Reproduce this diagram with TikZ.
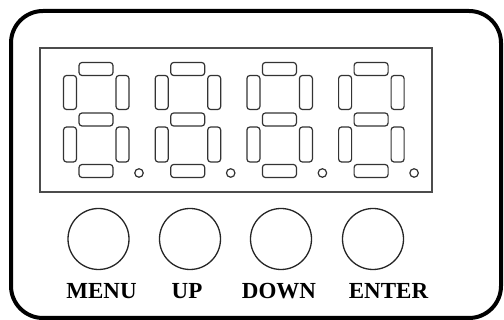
\documentclass[tikz,border=0pt]{standalone}
\usepackage{fontspec}
\setmainfont{Liberation Serif}
\usetikzlibrary{positioning}
\tikzset{
  hseg/.style={draw=black!80, line width=1.2pt, rounded corners=3pt, minimum width=34pt, minimum height=13pt, inner sep=0pt},
  vseg/.style={hseg, minimum width=13pt, minimum height=34pt},
  segdot/.style={circle, draw=black!80, line width=1.2pt, minimum size=8.5pt, inner sep=0pt},
  button/.style={circle, draw=black!85, line width=1.3pt, minimum size=61pt, inner sep=0pt},
  keylabel/.style={anchor=base, inner sep=0pt, font=\bfseries\fontsize{23}{23}\selectfont}
}
\begin{document}
\begin{tikzpicture}[x=1pt,y=-1pt]
	\useasboundingbox (0,0) rectangle (504,320);
	\draw [line width=4pt, rounded corners=32pt] (11,11) rectangle (501,318);
	\draw [line width=1.3pt, black!70] (40,48) rectangle (432,192);
	% four seven-segment digits
	\foreach \i in {0,...,3} {
		\pgfmathsetmacro\x{63+91.7*\i}
		\node [hseg] (top\i) at (\x+33,69) {};
		\node [vseg] (ul\i) at (\x+7,92.5) {};
		\node [vseg] (ur\i) at (\x+59.5,92.5) {};
		\node [hseg] (mid\i) at (\x+33,119.5) {};
		\node [vseg, minimum height=35pt] (ll\i) at (\x+7,144.5) {};
		\node [vseg, minimum height=35pt] (lr\i) at (\x+59.5,144.5) {};
		\node [hseg] (bot\i) at (\x+33,171) {};
		\node [segdot] (dot\i) at (\x+76,173) {};
	}
	% keys
	\node [button] (menu) at (98.5,239) {};
	\node [button] (up) at (190,239) {};
	\node [button] (down) at (281,239) {};
	\node [button] (enter) at (373,239) {};
	\node [keylabel] (menutext) at (101.5,299) {MENU};
	\node [keylabel] (uptext) at (187,299) {UP};
	\node [keylabel] (downtext) at (279,299) {DOWN};
	\node [keylabel] (entertext) at (388.5,299) {ENTER};
\end{tikzpicture}
\end{document}
